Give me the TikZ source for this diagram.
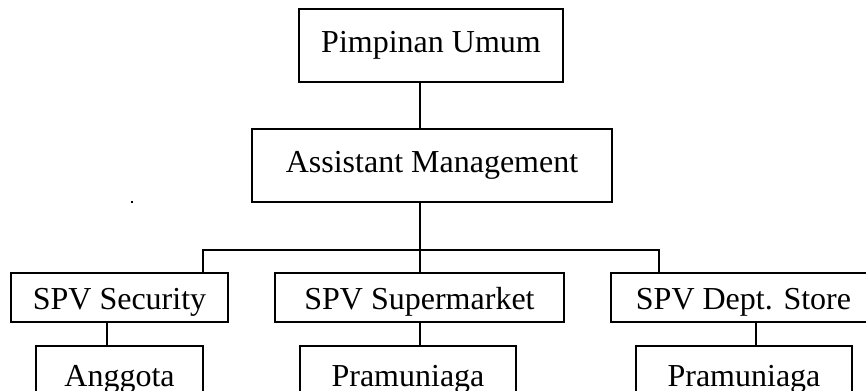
\documentclass[tikz,border=0pt]{standalone}
\usepackage{fontspec}
\setmainfont{Liberation Serif}
\begin{document}
\begin{tikzpicture}[x=0.75pt, y=-0.75pt,
    box/.style={draw, line width=1.3pt, inner sep=0pt, font=\fontsize{24}{28}\selectfont},
    spvbox/.style={box, minimum height=36.75pt, text height=18pt, text depth=0pt},
    staffbox/.style={box, minimum width=162pt, minimum height=49.5pt},
    line/.style={line width=0.8pt}]
    \useasboundingbox (0,0) rectangle (866,391);
    \clip (0,0) rectangle (866,391);

    % Pimpinan
    \node[box, minimum width=198pt, minimum height=54.75pt] (pim) at (431,45.5) {Pimpinan Umum};
    \node[box, minimum width=270pt, minimum height=54.75pt] (am) at (432,165.5) {Assistant Management};

    % Supervisor
    \node[spvbox, minimum width=162.75pt] (sec) at (119.5,297.5) {SPV Security};
    \node[spvbox, minimum width=216.75pt] (sup) at (419.5,297.5) {SPV Supermarket};
    \node[spvbox, minimum width=198.75pt] (dept) at (743.5,297.5) {SPV Dept. Store};

    % Staff
    \node[staffbox, minimum width=125.25pt] (ang) at (119.5,379) {Anggota};
    \node[staffbox] (pram1) at (408,379) {Pramuniaga};
    \node[staffbox] (pram2) at (744,379) {Pramuniaga};

    % Connectors
    \coordinate (trunk) at (420,250);
    \coordinate (busL) at (203,250);
    \coordinate (busR) at (659,250);
    \coordinate (drop1) at (107,334);
    \coordinate (drop3) at (756,334);
    \draw[line] (trunk |- pim.south) -- (trunk |- am.north);
    \draw[line] (trunk |- am.south) -- (trunk) -- (trunk |- sup.north);
    \draw[line] (busL |- sec.north) -- (busL) -- (busR) -- (busR |- dept.north);
    \draw[line] (drop1 |- sec.south) -- (drop1 |- ang.north);
    \draw[line] (trunk |- sup.south) -- (trunk |- pram1.north);
    \draw[line] (drop3 |- dept.south) -- (drop3 |- pram2.north);

    \fill (131,201) rectangle (133,203);
\end{tikzpicture}
\end{document}
